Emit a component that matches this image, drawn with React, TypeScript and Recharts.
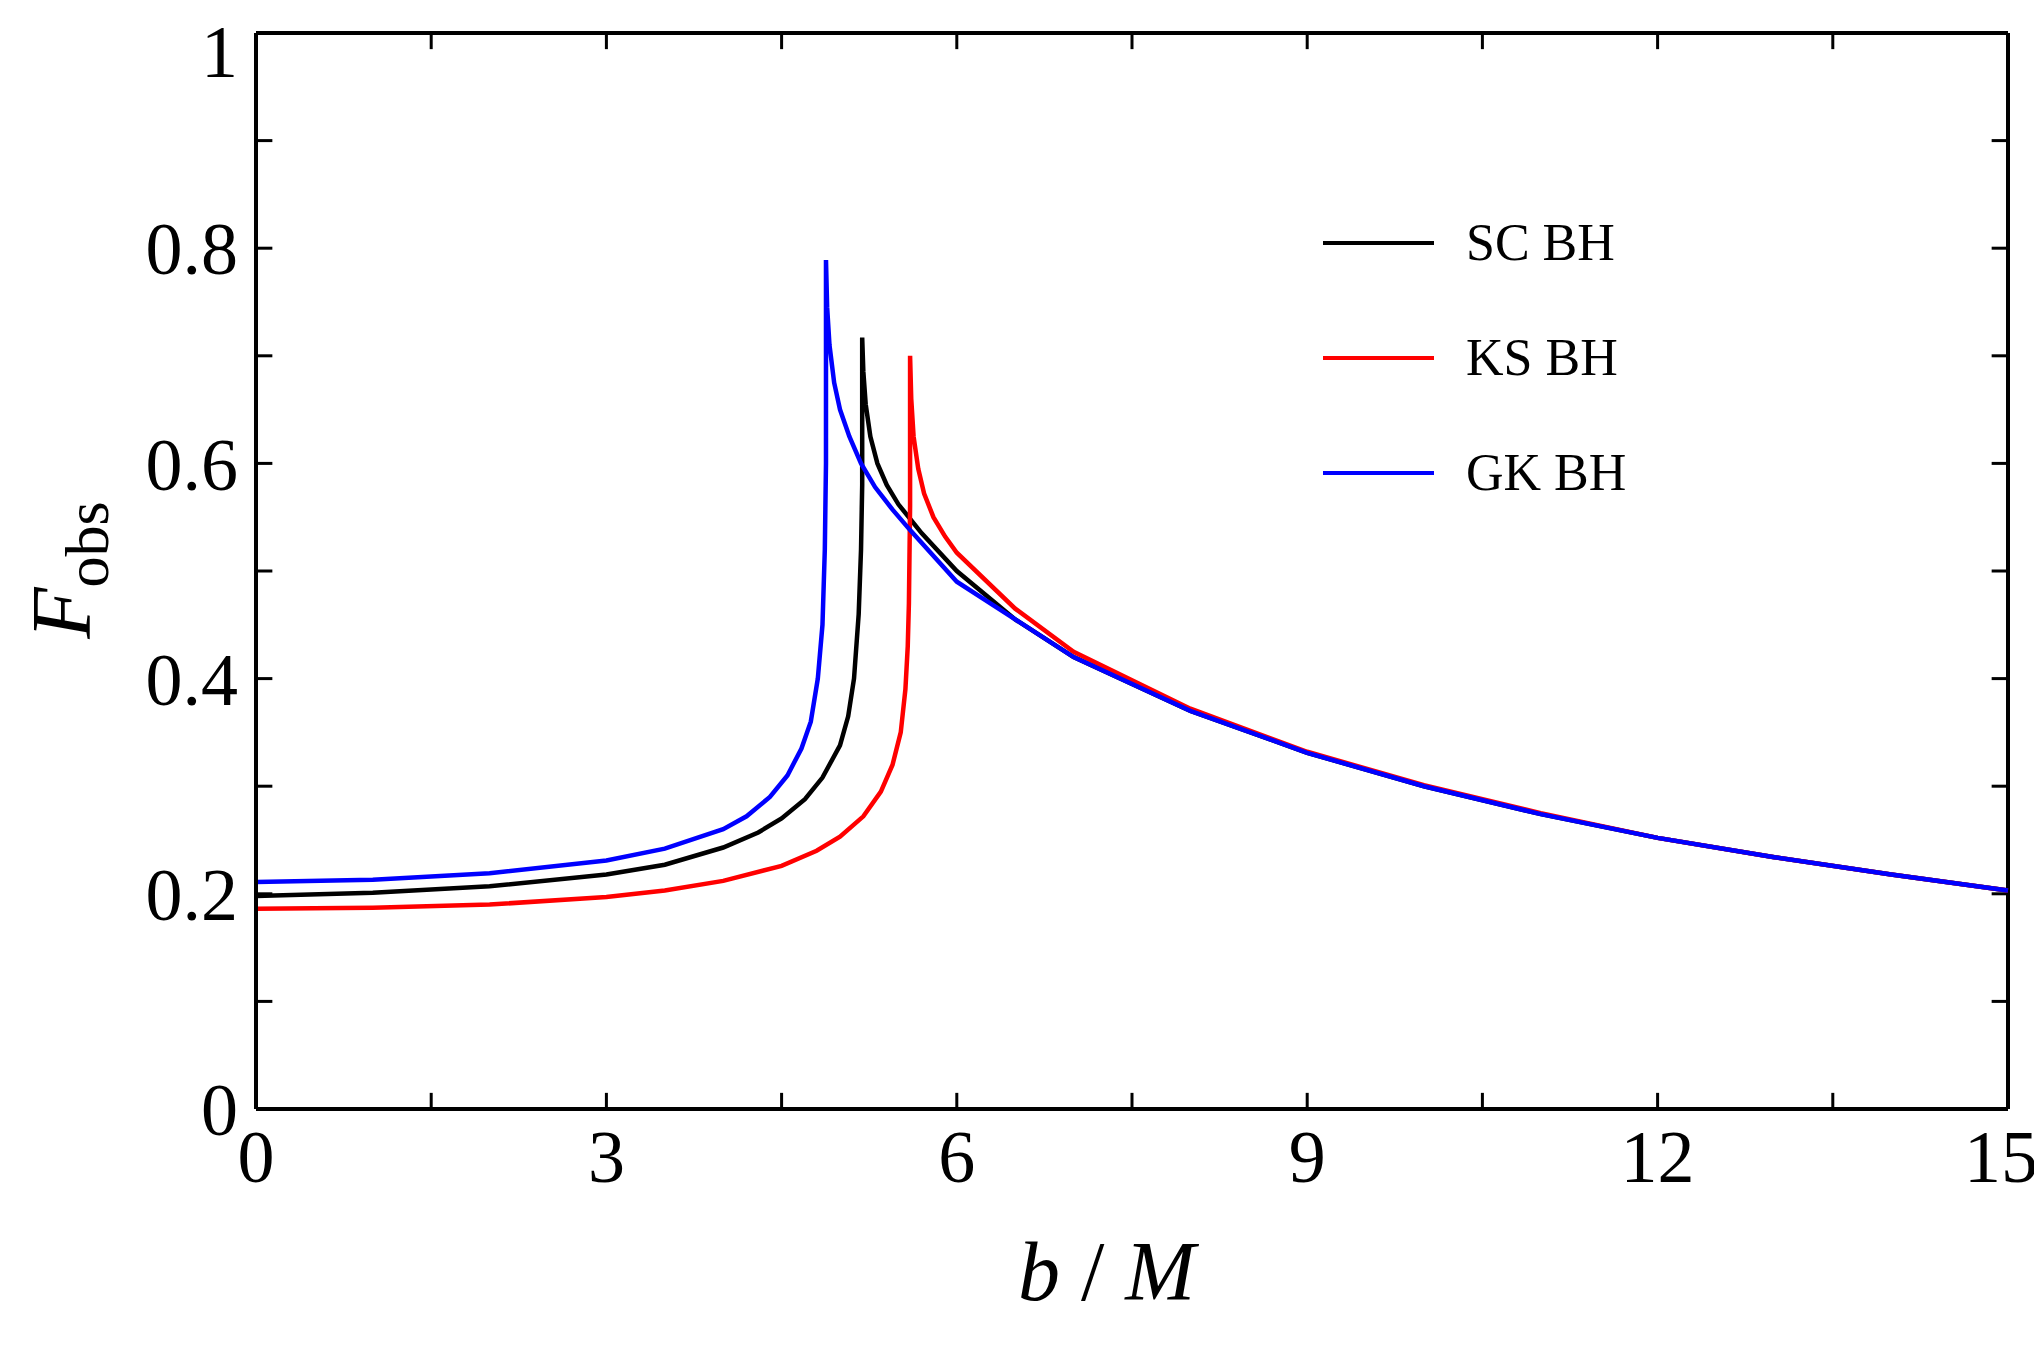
import React from 'react';
import { LineChart, Line, XAxis, YAxis, ReferenceLine } from 'recharts';

const scX = [0, 1, 2, 3, 3.5, 4, 4.3, 4.5, 4.7, 4.85, 5.0, 5.07, 5.12, 5.16, 5.18, 5.19, 5.19, 5.2, 5.22, 5.26, 5.32, 5.4, 5.5, 5.7, 6, 6.5, 7, 8, 9, 10, 11, 12, 13, 14, 15];
const scY = [0.198, 0.201, 0.207, 0.218, 0.227, 0.243, 0.257, 0.27, 0.288, 0.308, 0.338, 0.365, 0.4, 0.46, 0.52, 0.58, 0.717, 0.685, 0.655, 0.625, 0.6, 0.58, 0.562, 0.535, 0.5, 0.455, 0.42, 0.37, 0.331, 0.3, 0.274, 0.252, 0.234, 0.218, 0.203];

const ksX = [0, 1, 2, 3, 3.5, 4, 4.5, 4.8, 5, 5.2, 5.35, 5.45, 5.52, 5.56, 5.58, 5.59, 5.6, 5.6, 5.61, 5.63, 5.67, 5.72, 5.8, 5.9, 6, 6.5, 7, 8, 9, 10, 11, 12, 13, 14, 15];
const ksY = [0.186, 0.187, 0.19, 0.197, 0.203, 0.212, 0.226, 0.24, 0.253, 0.272, 0.295, 0.32, 0.35, 0.39, 0.43, 0.47, 0.56, 0.7, 0.66, 0.625, 0.595, 0.572, 0.55, 0.532, 0.517, 0.465, 0.425, 0.372, 0.332, 0.301, 0.275, 0.252, 0.234, 0.218, 0.203];

const gkX = [0, 1, 2, 3, 3.5, 4, 4.2, 4.4, 4.55, 4.67, 4.75, 4.81, 4.85, 4.87, 4.88, 4.88, 4.89, 4.91, 4.95, 5.0, 5.08, 5.18, 5.3, 5.45, 5.6, 6, 6.5, 7, 8, 9, 10, 11, 12, 13, 14, 15];
const gkY = [0.211, 0.213, 0.219, 0.231, 0.242, 0.26, 0.272, 0.29, 0.31, 0.335, 0.36, 0.4, 0.45, 0.52, 0.6, 0.789, 0.745, 0.71, 0.675, 0.65, 0.625, 0.6, 0.578, 0.557, 0.538, 0.49, 0.455, 0.42, 0.37, 0.331, 0.3, 0.274, 0.252, 0.234, 0.218, 0.203];

const xMinor = [1.5, 3, 4.5, 6, 7.5, 9, 10.5, 12, 13.5];
const xMajor = [0, 3, 6, 9, 12, 15];
const yMinor = [0.1, 0.2, 0.3, 0.4, 0.5, 0.6, 0.7, 0.8, 0.9];
const yMajor = [0, 0.2, 0.4, 0.6, 0.8, 1];

const series = [
  { name: 'SC BH', color: '#000000', data: scX.map((x, i) => ({ x, y: scY[i] })) },
  { name: 'KS BH', color: '#ff0000', data: ksX.map((x, i) => ({ x, y: ksY[i] })) },
  { name: 'GK BH', color: '#0000ff', data: gkX.map((x, i) => ({ x, y: gkY[i] })) },
];

const font = '"Liberation Serif", "Times New Roman", serif';
const tickStyle = { fontSize: 74, fill: '#000', fontFamily: font };
const axisLine = { stroke: '#000', strokeWidth: 4 };
const tickLen = { x: 0.14, y: 0.015 };

export default function App() {
  return (
    <div style={{ position: 'relative', width: 2030, height: 1340, fontFamily: font }}>
      <LineChart width={2030} height={1340} margin={{ top: 25, right: 30, left: 128, bottom: 139 }}>
        <XAxis type="number" dataKey="x" domain={[0, 15]} ticks={xMajor} tickLine={false}
          axisLine={axisLine} tick={tickStyle} height={100} tickMargin={14} allowDuplicatedCategory={false} />
        <YAxis type="number" domain={[0, 1]} ticks={yMajor} tickLine={false} axisLine={axisLine}
          tick={tickStyle} width={120} tickMargin={12} tickFormatter={(v: number) => String(v)} />
        <ReferenceLine y={1} stroke="#000" strokeWidth={4} />
        <ReferenceLine x={15} stroke="#000" strokeWidth={4} />
        {xMinor.map(v => (
          <ReferenceLine key={'b' + v} segment={[{ x: v, y: 0 }, { x: v, y: tickLen.y }]} stroke="#000" strokeWidth={3} />
        ))}
        {xMinor.map(v => (
          <ReferenceLine key={'t' + v} segment={[{ x: v, y: 1 }, { x: v, y: 1 - tickLen.y }]} stroke="#000" strokeWidth={3} />
        ))}
        {yMinor.map(v => (
          <ReferenceLine key={'l' + v} segment={[{ x: 0, y: v }, { x: tickLen.x, y: v }]} stroke="#000" strokeWidth={3} />
        ))}
        {yMinor.map(v => (
          <ReferenceLine key={'r' + v} segment={[{ x: 15, y: v }, { x: 15 - tickLen.x, y: v }]} stroke="#000" strokeWidth={3} />
        ))}
        {series.map(s => (
          <Line key={s.name} data={s.data} dataKey="y" type="linear" stroke={s.color} strokeWidth={4.5}
            dot={false} isAnimationActive={false} />
        ))}
      </LineChart>
      <div style={{ position: 'absolute', left: 1010, top: 1215, fontSize: 84, fontStyle: 'italic', whiteSpace: 'nowrap' }}>
        b <span style={{ fontStyle: 'normal' }}>/</span> M
      </div>
      <div style={{ position: 'absolute', left: 60, top: 562, transform: 'translate(-50%, -50%) rotate(-90deg)', fontSize: 84, whiteSpace: 'nowrap' }}>
        <i>F</i><sub style={{ fontSize: 62 }}>obs</sub>
      </div>
      {series.map((s, i) => (
        <div key={s.name} style={{ position: 'absolute', left: 1315, top: 205 + i * 115, display: 'flex', alignItems: 'center' }}>
          <div style={{ width: 111, height: 4, background: s.color, marginRight: 32 }} />
          <span style={{ fontSize: 52 }}>{s.name}</span>
        </div>
      ))}
    </div>
  );
}
